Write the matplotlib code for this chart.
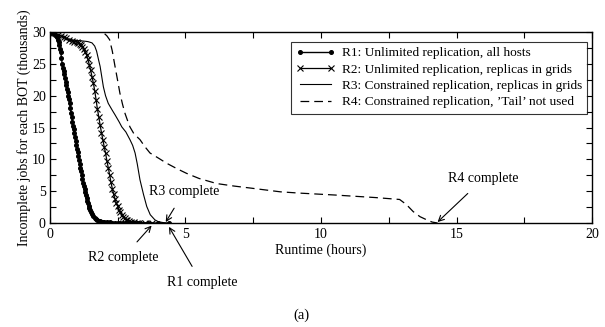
import matplotlib
matplotlib.use('Agg')
import matplotlib.pyplot as plt
from matplotlib.ticker import MultipleLocator

plt.rcParams['font.family'] = ['Liberation Serif', 'DejaVu Serif']

# R1: unlimited replication, all hosts (hours, thousands of jobs)
r1_t = [0.0, 0.05, 0.1, 0.15, 0.2, 0.25,
        0.3, 0.325, 0.35, 0.375, 0.4, 0.425, 0.45, 0.475, 0.5, 0.525,
        0.55, 0.575, 0.6, 0.625, 0.65, 0.675, 0.7, 0.725, 0.75, 0.775,
        0.8, 0.825, 0.85, 0.875, 0.9, 0.925, 0.95, 0.975, 1.0, 1.025,
        1.05, 1.075, 1.1, 1.125, 1.15, 1.175, 1.2, 1.225, 1.25, 1.275,
        1.3, 1.325, 1.35, 1.375, 1.4, 1.425, 1.45, 1.475, 1.5, 1.55,
        1.6, 1.65, 1.7, 1.75, 1.8, 1.85, 1.9, 1.95, 2.0, 2.1, 2.2, 2.3,
        2.4, 2.5, 2.6, 2.7, 2.8, 2.9, 3.0, 3.1, 3.2, 3.3, 3.6, 4.0, 4.4]
r1_jobs = [30.0, 29.95, 29.9, 29.8, 29.6, 29.3,
           28.8, 28.4, 27.9, 27.4, 26.8, 25.9, 25.0, 24.4, 23.9, 23.4,
           22.8, 22.2, 21.7, 21.1, 20.6, 20.0, 19.5, 18.8, 18.0, 17.3,
           16.6, 15.9, 15.2, 14.7, 14.1, 13.5, 12.9, 12.3, 11.7, 11.1,
           10.5, 9.9, 9.3, 8.7, 8.1, 7.5, 6.9, 6.3, 5.8, 5.3,
           4.8, 4.4, 3.9, 3.5, 3.1, 2.7, 2.4, 2.1, 1.8, 1.4,
           1.1, 0.85, 0.65, 0.5, 0.38, 0.3, 0.22, 0.18, 0.15, 0.12, 0.1, 0.08,
           0.07, 0.06, 0.05, 0.04, 0.04, 0.03, 0.03, 0.02, 0.02, 0.01, 0.01, 0.0, 0.0]

# R2: unlimited replication, replicas in grids
r2_t = [0.0, 0.1, 0.2, 0.3, 0.4, 0.5, 0.6, 0.7, 0.8, 0.9, 1.0, 1.05, 1.1,
        1.15, 1.2, 1.25, 1.3, 1.35, 1.4, 1.45, 1.5, 1.55, 1.6, 1.65, 1.7,
        1.75, 1.8, 1.85, 1.9, 1.95, 2.0, 2.05, 2.1, 2.15, 2.2, 2.25, 2.3,
        2.35, 2.4, 2.45, 2.5, 2.55, 2.6, 2.65, 2.7, 2.75, 2.8, 2.85, 2.9,
        3.0, 3.1, 3.2, 3.3, 3.5, 3.75]
r2_jobs = [30.0, 29.9, 29.8, 29.6, 29.4, 29.2, 29.0, 28.8, 28.6, 28.5, 28.4, 28.3, 28.2,
           28.0, 27.7, 27.3, 26.9, 26.4, 25.7, 24.9, 24.0, 23.0, 22.0, 20.8, 19.4,
           17.9, 16.7, 15.4, 14.2, 13.1, 12.0, 11.0, 9.8, 8.7, 7.6, 6.4, 5.4,
           4.5, 3.8, 3.1, 2.6, 2.1, 1.7, 1.3, 1.0, 0.75, 0.55, 0.4, 0.3,
           0.2, 0.12, 0.08, 0.05, 0.03, 0.0]

# R3: constrained replication, replicas in grids
r3_t = [0.0, 0.3, 0.6, 0.9, 1.2, 1.4, 1.55, 1.65, 1.72, 1.8, 1.85, 1.97, 2.05,
        2.15, 2.3, 2.4, 2.55, 2.65, 2.8, 2.95, 3.05, 3.14, 3.22, 3.32, 3.45,
        3.57, 3.7, 3.87, 4.0, 4.27]
r3_jobs = [30.0, 29.6, 29.0, 28.7, 28.6, 28.5, 28.3, 27.8, 27.0, 25.5, 24.6, 21.4, 20.0,
           18.8, 17.7, 17.0, 15.9, 15.1, 14.3, 13.1, 12.2, 11.0, 9.3, 6.8, 4.5,
           2.6, 1.3, 0.5, 0.2, 0.0]

# R4: constrained replication, 'Tail' not used
r4_t = [0.0, 1.0, 1.9, 2.0, 2.1, 2.2, 2.3, 2.4, 2.5, 2.58, 2.68, 2.77, 2.87,
        2.95, 3.1, 3.32, 3.5, 3.69, 4.0, 4.3, 4.7, 5.04, 5.5, 6.15, 6.8, 7.38,
        8.5, 9.2, 10.5, 12.0, 12.9, 13.15, 13.4, 13.65, 13.9, 14.1, 14.3]
r4_jobs = [30.0, 30.0, 29.95, 29.8, 29.4, 28.8, 27.0, 24.6, 22.3, 20.4, 18.6, 17.2, 16.0,
           15.1, 14.0, 13.1, 12.0, 11.0, 10.2, 9.4, 8.5, 7.8, 7.0, 6.2, 5.8, 5.5,
           4.9, 4.7, 4.4, 4.0, 3.7, 2.9, 1.8, 1.0, 0.5, 0.15, 0.0]

labels = ['R1: Unlimited replication, all hosts',
          'R2: Unlimited replication, replicas in grids',
          'R3: Constrained replication, replicas in grids',
          'R4: Constrained replication, \u2019Tail\u2019 not used']

# (label, text position, arrow tip) in data coords
notes = [('R3 complete', (4.95, 4.9), (4.27, 0.15)),
         ('R2 complete', (2.7, -5.4), (3.75, -0.4)),
         ('R1 complete', (5.6, -9.4), (4.39, -0.6)),
         ('R4 complete', (16.0, 7.0), (14.3, 0.15))]

fig = plt.figure(figsize=(6.05, 3.27), dpi=100)
ax = fig.add_axes([0.0826, 0.318, 0.896, 0.584])

ax.plot(r1_t, r1_jobs, '-', color='black', lw=1.0, marker='o', ms=2.6,
        label=labels[0])
ax.plot(r2_t, r2_jobs, '-', color='black', lw=0.9, marker='x', ms=3.8, mew=0.8,
        label=labels[1])
ax.plot(r3_t, r3_jobs, '-', color='black', lw=0.8, label=labels[2])
ax.plot(r4_t, r4_jobs, color='black', lw=0.9, dashes=(7, 4), label=labels[3])

ax.set_xlim(0, 20)
ax.set_ylim(0, 30)
ax.xaxis.set_major_locator(MultipleLocator(5))
ax.xaxis.set_minor_locator(MultipleLocator(2.5))
ax.yaxis.set_major_locator(MultipleLocator(5))
ax.yaxis.set_minor_locator(MultipleLocator(2.5))
ax.tick_params(which='both', direction='in', top=True, right=True,
               labelsize=10, width=0.8, length=4)
ax.tick_params(axis='x', pad=3.5)
ax.tick_params(axis='y', pad=3)
for s in ax.spines.values():
    s.set_linewidth(1.0)

ax.set_xlabel('Runtime (hours)', fontsize=10, labelpad=2)
ax.set_ylabel('Incomplete jobs for each BOT (thousands)', fontsize=10, labelpad=1)

leg = ax.legend(loc='upper right', bbox_to_anchor=(0.991, 0.95), borderaxespad=0,
                fontsize=9.6, numpoints=2, handlelength=2.9,
                frameon=True, fancybox=False, borderpad=0.4,
                labelspacing=0.3, handletextpad=0.5)
leg.get_frame().set_edgecolor('black')
leg.get_frame().set_linewidth(0.8)

for text, xy_text, xy_tip in notes:
    ax.annotate(text, xy=xy_tip, xytext=xy_text, fontsize=10,
                ha='center', va='center', annotation_clip=False,
                arrowprops=dict(arrowstyle='->', color='black', lw=0.8,
                                shrinkA=6, shrinkB=0))

fig.text(0.499, 0.037, '(a)', fontsize=10.5, ha='center', va='center')

fig.savefig('out.png', dpi=100)
